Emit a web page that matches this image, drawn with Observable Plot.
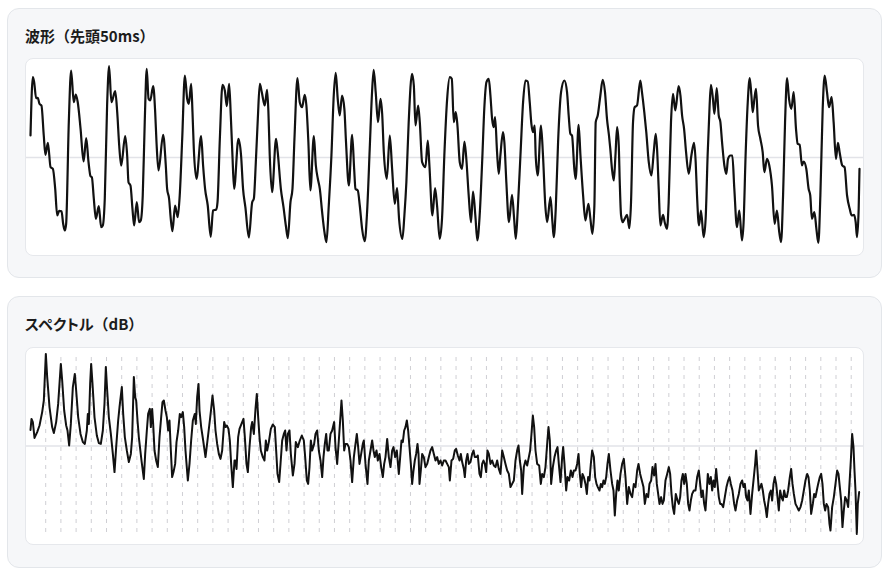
<!DOCTYPE html>
<html><head><meta charset="utf-8">
<script src="https://cdn.jsdelivr.net/npm/d3@7"></script>
<script src="https://cdn.jsdelivr.net/npm/@observablehq/plot@0.6"></script>
<style>
html,body{margin:0;padding:0;background:#fff;}
body{width:890px;height:576px;position:relative;overflow:hidden;font-family:"Noto Sans CJK JP","Noto Sans",sans-serif;}
.card{position:absolute;left:7px;width:875px;box-sizing:border-box;background:#f6f7f9;border:1px solid #e3e6ea;border-radius:12px;}
.title{position:absolute;left:17px;top:17px;font-size:15px;font-weight:700;line-height:20px;color:#1c1c1c;white-space:nowrap;}
.kana{font-feature-settings:"palt";}
.box{position:absolute;left:17px;width:839px;height:198px;box-sizing:border-box;background:#fff;border:1px solid #e6e8ec;border-radius:8px;overflow:hidden;}
.box svg{position:absolute;left:0;top:0;}
</style></head>
<body>
<div class="card" style="top:8px;height:270px;">
  <div class="title">波形（先頭50ms）</div>
  <div class="box" id="wave" style="top:49px;"></div>
</div>
<div class="card" style="top:296px;height:272px;">
  <div class="title"><span class="kana">スペクトル</span>（dB）</div>
  <div class="box" id="spec" style="top:50px;"></div>
</div>
<script>
// ---- waveform (first 50 ms), time in ms, amplitude normalized ----
const waveT = [
0.00,0.14,0.22,0.34,0.44,0.54,0.66,0.80,0.90,1.05,1.21,1.35,1.49,1.61,1.73,1.87,1.97,2.07,2.15,2.31,2.45,
2.61,2.73,2.85,3.02,3.20,3.36,3.50,3.62,3.70,3.82,3.94,4.12,4.26,4.36,4.48,4.62,4.74,
4.88,5.11,5.23,5.35,5.47,5.71,5.83,5.91,6.03,6.15,6.25,6.41,6.55,6.65,6.77,6.89,7.01,
7.12,7.22,7.40,7.52,7.60,7.72,8.00,8.16,8.24,8.36,8.46,8.56,8.72,8.88,9.00,9.15,9.31,
9.45,9.55,9.69,9.77,9.85,10.01,10.29,10.41,10.53,10.69,10.87,11.01,11.20,11.28,11.42,11.58,
11.72,11.84,11.98,12.08,12.18,12.28,12.54,12.70,12.82,12.96,13.17,13.37,13.47,13.59,13.71,13.83,
13.95,14.13,14.27,14.35,14.43,14.57,14.81,14.91,15.10,15.26,15.40,15.52,15.68,15.80,15.92,16.10,
16.24,16.38,16.54,16.64,16.76,16.88,17.09,17.21,17.33,17.45,17.59,17.73,17.85,17.99,18.15,18.29,18.41,
18.53,18.65,18.79,18.93,19.03,19.20,19.40,19.52,19.60,19.74,19.86,20.00,20.16,20.30,20.46,20.60,20.70,
20.82,20.96,21.11,21.21,21.31,21.49,21.67,21.81,21.97,22.11,22.23,22.43,22.55,22.67,22.81,23.01,
23.12,23.22,23.38,23.48,23.62,23.82,23.96,24.06,24.24,24.40,24.52,24.68,24.82,24.96,25.13,25.29,25.41,
25.53,25.65,25.75,25.89,26.03,26.17,26.27,26.43,26.57,26.69,26.83,26.95,27.09,27.24,27.38,27.50,27.64,
27.74,27.84,27.94,28.02,28.14,28.24,28.34,28.50,28.58,28.70,28.86,29.04,29.17,29.27,29.39,29.55,29.71,29.85,29.99,
30.11,30.21,30.31,30.41,30.47,30.59,30.79,30.91,31.05,31.16,31.36,31.48,31.56,31.68,31.82,32.00,32.20,
32.36,32.46,32.56,32.66,32.80,32.88,33.06,33.17,33.33,33.47,33.65,33.77,33.89,34.01,34.09,34.21,34.37,34.51,
34.65,34.77,34.89,34.97,35.07,35.18,35.28,35.38,35.48,35.54,35.62,35.72,35.84,35.98,36.12,36.22,36.34,36.44,36.58,36.78,
36.88,37.02,37.14,37.29,37.45,37.59,37.71,37.79,37.89,37.99,38.15,38.25,38.39,38.49,38.63,38.75,38.89,39.09,
39.20,39.30,39.42,39.54,39.70,39.86,40.02,40.12,40.20,40.32,40.44,40.60,40.72,40.84,40.96,41.04,
41.16,41.25,41.39,41.51,41.61,41.71,41.85,41.97,42.07,42.21,42.33,42.45,42.61,42.75,42.91,43.01,43.13,43.26,43.38,
43.48,43.56,43.66,43.76,43.88,44.02,44.16,44.26,44.42,44.56,44.72,44.88,45.02,45.16,45.27,45.39,45.51,45.63,
45.75,45.89,46.03,46.17,46.27,46.39,46.53,46.63,46.79,46.93,47.03,47.13,47.28,47.40,47.52,47.64,47.78,47.90,
48.04,48.16,48.32,48.44,48.58,48.70,48.80,48.96,49.10,49.25,49.41,49.53,49.67,49.77,49.85,49.95,50.00
];
const waveA = [
0.220,0.803,0.753,0.593,0.597,0.537,0.520,0.220,0.027,0.147,-0.097,-0.113,-0.313,-0.580,-0.533,-0.537,-0.663,-0.730,-0.663,0.353,0.870,
0.553,0.630,0.553,0.287,-0.040,0.193,-0.047,-0.187,-0.197,-0.413,-0.613,-0.487,-0.697,-0.680,-0.413,0.520,0.913,
0.553,0.663,0.453,0.120,-0.080,0.213,0.020,-0.247,-0.280,-0.513,-0.680,-0.447,-0.647,-0.630,-0.380,0.353,0.887,
0.587,0.570,0.713,0.453,0.153,-0.130,0.227,-0.080,-0.313,-0.413,-0.613,-0.737,-0.480,-0.597,-0.380,0.187,0.820,
0.587,0.537,0.737,0.453,0.087,-0.213,0.213,-0.080,-0.313,-0.480,-0.793,-0.530,-0.520,-0.447,0.187,0.727,
0.670,0.513,0.737,0.420,0.020,-0.313,0.187,0.020,-0.313,-0.497,-0.800,-0.447,-0.413,-0.047,0.387,0.737,
0.653,0.520,0.677,0.453,0.020,-0.347,0.187,0.053,-0.313,-0.497,-0.680,-0.807,-0.447,-0.313,0.187,0.793,
0.553,0.503,0.627,0.520,0.153,-0.330,0.213,-0.080,-0.213,-0.313,-0.547,-0.747,-0.847,-0.480,0.020,0.620,0.847,
0.587,0.420,0.620,0.487,0.153,-0.280,0.227,-0.113,-0.313,-0.330,-0.480,-0.713,-0.837,-0.547,0.087,0.653,0.877,
0.653,0.353,0.587,0.437,0.053,-0.213,0.220,-0.113,-0.463,-0.307,-0.613,-0.813,-0.580,-0.247,0.353,0.837,
0.720,0.320,0.520,0.353,-0.047,-0.097,0.170,-0.080,-0.580,-0.307,-0.480,-0.813,-0.613,0.020,0.587,0.803,0.787,
0.353,0.453,0.320,-0.047,-0.113,0.160,0.020,-0.380,-0.647,-0.340,-0.580,-0.830,-0.580,-0.047,0.520,0.753,0.787,
0.620,0.387,0.303,0.403,0.053,-0.163,0.020,0.253,0.153,-0.247,-0.647,-0.373,-0.613,-0.813,-0.513,0.020,0.553,0.770,0.760,
0.553,0.337,0.253,0.320,0.020,-0.180,0.320,0.020,-0.480,-0.647,-0.397,-0.647,-0.797,-0.513,0.153,0.653,0.770,
0.653,0.420,0.237,0.220,-0.113,-0.213,0.327,0.020,-0.380,-0.630,-0.463,-0.613,-0.763,-0.480,0.353,0.420,0.620,0.777,
0.653,0.387,0.220,0.087,-0.113,-0.230,0.020,0.303,0.120,-0.247,-0.580,-0.647,-0.613,-0.573,-0.707,-0.447,0.353,0.503,0.520,0.770,
0.653,0.453,0.253,-0.047,-0.180,0.053,0.237,0.087,-0.313,-0.680,-0.573,-0.647,-0.713,-0.447,0.353,0.637,0.470,0.713,
0.620,0.420,0.287,0.053,-0.163,0.020,0.147,-0.047,-0.380,-0.680,-0.530,-0.797,-0.613,0.020,0.520,0.727,
0.587,0.437,0.693,0.420,0.353,0.153,-0.080,-0.163,-0.013,0.020,0.020,-0.313,-0.697,-0.530,-0.830,-0.647,0.020,0.553,0.793,
0.620,0.453,0.587,0.687,0.320,0.187,0.053,-0.147,-0.013,-0.080,-0.280,-0.663,-0.530,-0.747,-0.847,-0.380,0.353,0.793,
0.587,0.487,0.653,0.287,0.137,0.127,-0.080,-0.040,-0.113,-0.313,-0.380,-0.613,-0.547,-0.713,-0.853,-0.380,0.487,0.820,
0.653,0.503,0.603,0.353,-0.013,0.147,0.053,-0.080,-0.097,-0.380,-0.513,-0.580,-0.573,-0.647,-0.797,-0.513,-0.113
];
const waveDomain = [-0.89, 0.89];

// ---- spectrum, frequency in Hz, level in dB ----
const specF = [
0,29,68,116,193,261,338,386,444,483,550,627,676,743,801,878,917,975,1033,1071,
1119,1168,1226,1283,1322,1380,1448,1515,1573,1631,1660,1689,1727,1756,1795,1853,1920,1978,2036,2094,
2142,2181,2220,2268,2326,2384,2432,2480,2538,2577,2644,2683,2731,2789,2847,2905,2943,2992,3030,3059,
3098,3136,3213,3281,3320,3368,3406,3455,3484,3522,3551,3590,3638,3686,3735,3783,3821,3860,3908,3947,
3985,4024,4063,4101,4140,4188,4227,4275,4323,4362,4410,4449,4487,4555,4603,4651,4700,4757,4786,4825,
4864,4893,4941,4999,5066,5124,5192,5230,5269,5317,5356,5404,5452,5501,5549,5607,5645,5684,5732,5771,
5809,5858,5906,
5935,5964,6012,6051,6108,6166,6205,6253,6292,6340,6388,6417,6466,6514,6552,6591,6630,6668,6726,6774,
6813,6852,6900,6958,7016,7073,7112,7151,7199,7238,7286,7334,7373,7411,7450,7498,7537,7595,7643,7681,
7739,7797,7855,7913,7952,8000,8038,8077,8116,8154,8212,8251,8299,8347,8396,8444,8482,8521,8560,8598,
8637,8685,8733,8791,8830,8878,8926,8965,9003,9042,9081,9119,9168,9216,9264,9312,9361,9409,9447,9486,
9525,9573,9621,9650,9698,9756,9795,9843,9891,9930,9968,10017,10055,10104,10152,10200,10239,10277,10326,10374,
10422,10470,10509,10557,10605,10663,10702,10740,10779,10818,10856,10895,10933,10972,11011,11049,11088,11126,11165,11204,
11233,11262,11300,11339,11387,11435,11484,11532,11580,11628,11677,11725,11773,11821,11870,11918,11966,
12014,12063,12111,12140,12188,12236,12284,12323,12371,12420,12458,12497,12545,12574,12613,12651,12690,12738,12786,12825,
12863,12912,12950,12999,13037,13076,13114,13153,13192,13230,13269,13317,13365,13414,13462,13510,13558,13607,13655,13703,
13751,13800,13848,13896,13944,13993,14041,14089,14128,14166,14205,14234,14282,14330,14379,14427,14465,14504,14543,14581,
14620,14668,14726,14774,14813,14861,14909,14958,14996,15035,15073,15122,15170,15218,15257,15295,15344,15392,15421,15459,
15508,15546,15594,15643,15691,15730,15778,15826,15865,15903,15942,15980,16019,16067,16106,16144,16183,16222,16260,16309,
16347,16386,16424,16473,16511,16550,16588,16627,16666,16704,16743,16791,16839,16878,16916,16955,16994,17032,17081,17129,
17177,17225,17274,17322,17370,17418,17467,17515,17563,17602,17650,17698,17746,17785,17833,17881,17920,17968,18007,18055,
18094,18132,18171,18210,18258,18296,18335,18383,18432,18480,18518,18557,18596,18634,18682,18731,18769,18808,18846,18885,
18924,18962,19001,19039,19078,19117,19155,19204,19252,19300,19348,19387,19425,19464,19503,19541,19580,19609,19657,19696,
19734,19773,19811,19850,19889,19927,19966,20004,20053,20101,20149,20197,20236,20275,20323,20371,20410,20458,20506,20555,
20603,20641,20680,20719,20757,20796,20844,20892,20941,20979,21008,21047,21085,21124,21162,21201,21240,21278,21317,21355,
21394,21433,21471,21510,21548,21587,21626,21664,21703,21741,21780,21819,21857,21896,21934,21983,22021,22060,22099,22147,
22195,22243,22292,22340,22388,22436,22485,22523,22562,22600,22649,22687,22726,22764,22803,22851,22890,22928,22967,23006,
23044,23092,23131,23160,23208,23257,23305,23353,23392,23430,23469,23507,23546,23585,23633,23671,23710,23749,23787,23826,
23855,23884,23922,23951,23990
];
const specDb = [
-36.2,-30.7,-32.3,-40.2,-37.3,-34,-27.3,-21.5,1.8,-9.8,-24.8,-34.8,-37.8,-32.3,-23.2,-3.2,-11.5,-26.5,-34,-36.5,
-44,-33.2,-14.8,-8.2,-16.5,-29.8,-38.2,-42.3,-43.2,-36.5,-28.2,-33.2,-13.2,-3.2,-13.2,-29.8,-39,-42.8,-43.2,-36.5,
-23.2,-4.8,-16.5,-29.8,-38.2,-48.2,-57.3,-44.8,-31.5,-24.8,-14.8,-28.2,-39.8,-46.5,-52.3,-48.2,-39.8,-9.8,-19.8,-21.5,
-31.5,-39.8,-51.5,-60.7,-48.2,-36.5,-28.2,-25.7,-34.8,-25.7,-33.2,-46.5,-51.5,-54.8,-39.8,-29.8,-22.3,-21.5,-26.5,-29.8,
-36.5,-31.5,-46.5,-59.8,-57.3,-53.2,-42.3,-36.5,-28.2,-29.8,-27.3,-34.8,-46.5,-61.5,-53.2,-41.5,-31.5,-28.2,-33.2,-19.8,
-13.2,-26.5,-34.8,-41.5,-49.8,-41.5,-31.5,-25.7,-19,-26.5,-36.5,-43.2,-48.2,-50.7,-46.5,-32.3,-34.8,-34,-35.7,-41.5,
-53.2,-64.8,-51.5,
-51.5,-55.7,-39.8,-35.7,-33.2,-30.7,-39.8,-53.2,-57.3,-44.8,-34.8,-32.3,-38.2,-25.7,-18.2,-29.8,-39.8,-46.5,-49.8,-51.5,
-41.5,-46.5,-42.3,-35.7,-33.5,-34.8,-46.5,-58.2,-62.3,-53.2,-41.5,-38.2,-36.5,-46.5,-38.2,-36.5,-48.2,-59,-53.2,-42.3,
-44.8,-41.5,-39,-41.5,-49.8,-61.5,-63.2,-54.8,-41.5,-46.5,-43.2,-38.2,-36.5,-46.5,-51.5,-59.8,-49.8,-43.2,-38.2,-46.5,
-46.5,-38.2,-36.5,-32.3,-44.8,-53.2,-41.5,-31.5,-21.5,-31.5,-46.5,-43.2,-43.2,-44.8,-51.5,-62.3,-49.8,-43.2,-38.2,-44.8,
-53.2,-48.2,-43.2,-41.5,-53.2,-63.2,-51.5,-46.5,-41.5,-46.5,-49.8,-46.5,-51.5,-48.2,-54.8,-59.8,-53.2,-49.8,-40.7,-49.8,
-54.8,-46.5,-44.8,-49.8,-46.5,-58.2,-49.8,-41.5,-42.3,-36.5,-34.8,-31.5,-36.5,-44.8,-53.2,-63.2,-56.5,-51.5,-48.2,-43.2,
-48.2,-63.2,-56.5,-48.2,-49.8,-54.8,-53.2,-49.8,-46.5,-44.8,-48.2,-51.5,-49.8,-53.2,-51.5,-54,-51.5,
-51.5,-53.2,-54.8,-61.5,-51.5,-50.7,-46.5,-45.7,-49,-51.5,-48.2,-52.3,-55.7,-59.8,-51.5,-48.2,-53.2,-52.3,-48.2,-46.5,
-49.8,-49.8,-49,-58.2,-59.8,-53.2,-51.5,-53.2,-57.3,-46.5,-48.2,-53.2,-51.5,-54,-54.8,-51.5,-55.7,-58.2,-46.5,-49.8,
-53.2,-56.5,-58.2,-64.8,-63.2,-61.5,-51.5,-46.5,-44,-51.5,-56.5,-68.2,-54.8,-51.5,-54,-49.8,-46.5,-38.2,-29,-34.8,
-46.5,-53.2,-54,-63.2,-58.2,-59.8,-54.8,-43.2,-34.8,-41.5,-63.2,-54.8,-49.8,-46.5,-44.8,-53.2,-62.3,-49.8,-44.8,-53.2,
-66.5,-59.8,-61.5,-56.5,-59.8,-56.5,-56.5,-53.2,-48.2,-58.2,-64.8,-58.2,-59.8,-63.2,-68.2,-59.8,-61.5,-53.2,-46.5,-49.8,
-59.8,-63.2,-64.8,-66.5,-63.2,-64.8,-61.5,-63.2,-59.8,-53.2,-48.2,-56.5,-63.2,-66.5,-79,-68.2,-61.5,-66.5,-58.2,-53.2,
-50.7,-59.8,-73.2,-64.8,-68.2,-69.8,-63.2,-64.8,-56.5,-53.2,-58.2,-61.5,-64.8,-73.2,-68.2,-69.8,-63.2,-61.5,-54.8,-59,
-53.2,-63.2,-68.2,-73.2,-69.8,-73.2,-71.5,-61.5,-58.2,-54.8,-58.2,-68.2,-74.8,-78.2,-68.2,-71.5,-73.2,-69.8,-61.5,-58.2,
-63.2,-58.2,-63.2,-73.2,-76.5,-71.5,-68.2,-66.5,-66.5,-59.8,-56.5,-63.2,-69.8,-66.5,-73.2,-76.5,-66.5,-58.2,-63.2,-59.8,
-66.5,-61.5,-64.8,-55.7,-63.2,-69.8,-73.2,-73.2,-74.8,-69.8,-64.8,-61.5,-59.8,-63.2,-66.5,-73.2,-76.5,-71.5,-68.2,-63.2,
-61.5,-64.8,-63.2,-69.8,-71.5,-66.5,-78.2,-68.2,-59.8,-53.2,-46.5,-56.5,-66.5,-64.8,-63.2,-66.5,-71.5,-74.8,-79.8,-73.2,
-68.2,-66.5,-71.5,-63.2,-59.8,-63.2,-69.8,-76.5,-66.5,-69.8,-71.5,-66.5,-69.8,-69.8,-66.5,-59.8,-55.7,-63.2,-68.2,-73.2,
-74.8,-76.5,-74.8,-71.5,-66.5,-61.5,-58.2,-59.8,-66.5,-78.2,-73.2,-68.2,-69.8,-66.5,-63.2,-59.8,-58.2,-63.2,-73.2,-76.5,
-73.2,-74.8,-83.2,-86.5,-74.8,-69.8,-63.2,-56.5,-58.2,-64.8,-71.5,-84.8,-76.5,-69.8,-71.5,-74.8,-63.2,-51.5,-38.2,-44.8,
-56.5,-66.5,-88.2,-73.2,-67.3
];
const specDomainDb = [-88.5, 0];
const fundamentalHz = 440;
const harmonicCount = 54;
const nyquistHz = 24000;

const wave = waveT.map((t, i) => ({t, a: waveA[i]}));
const spec = specF.map((f, i) => ({f, db: specDb[i]}));
const harmonics = d3.range(1, harmonicCount + 1).map(k => k * fundamentalHz);

const W = 837, H = 196;

const wavePlot = Plot.plot({
  width: W, height: H,
  marginLeft: 0, marginRight: 0, marginTop: 9, marginBottom: 9,
  x: {domain: [0, 50], range: [4, 833], axis: null},
  y: {domain: waveDomain, axis: null},
  marks: [
    Plot.ruleY([0], {stroke: "#e2e3e8", strokeWidth: 1.5}),
    Plot.line(wave, {x: "t", y: "a", stroke: "#111", strokeWidth: 2.2, curve: "monotone-x", strokeLinejoin: "round"})
  ]
});
document.getElementById("wave").appendChild(wavePlot);

const specPlot = Plot.plot({
  width: W, height: H,
  marginLeft: 0, marginRight: 0, marginTop: 9, marginBottom: 10,
  x: {domain: [0, nyquistHz], range: [4, 833], axis: null},
  y: {domain: specDomainDb, axis: null},
  marks: [
    Plot.ruleX(harmonics, {stroke: "#cfcfd4", strokeWidth: 1, strokeDasharray: "4,5"}),
    Plot.ruleY([d3.mean(specDomainDb)], {stroke: "#e2e3e8", strokeWidth: 1.5}),
    Plot.line(spec, {x: "f", y: "db", stroke: "#111", strokeWidth: 2, strokeLinejoin: "round"})
  ]
});
document.getElementById("spec").appendChild(specPlot);
</script>
</body></html>
